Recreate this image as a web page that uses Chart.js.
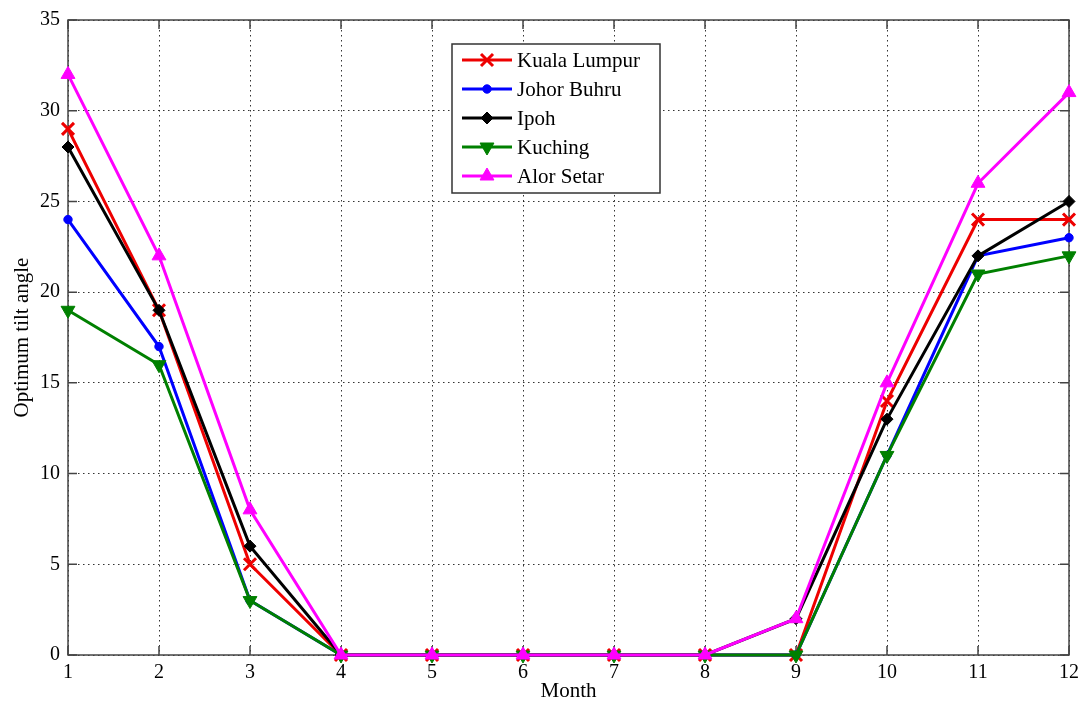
<!DOCTYPE html>
<html>
<head>
<meta charset="utf-8">
<script src="https://cdn.jsdelivr.net/npm/chart.js@4/dist/chart.umd.min.js"></script>
<style>
  html, body { margin: 0; padding: 0; background: #fff; }
  #wrap { width: 1085px; height: 704px; }
</style>
</head>
<body>
<div id="wrap"><canvas id="c" width="1085" height="704"></canvas></div>
<script>
// ---- data ----
const months = ['1','2','3','4','5','6','7','8','9','10','11','12'];
const kualaLumpur = [29, 19, 5, 0, 0, 0, 0, 0, 0, 14, 24, 24];
const johorBuhru  = [24, 17, 3, 0, 0, 0, 0, 0, 0, 11, 22, 23];
const ipoh        = [28, 19, 6, 0, 0, 0, 0, 0, 2, 13, 22, 25];
const kuching     = [19, 16, 3, 0, 0, 0, 0, 0, 0, 11, 21, 22];
const alorSetar   = [32, 22, 8, 0, 0, 0, 0, 0, 2, 15, 26, 31];
const seriesNames = ['Kuala Lumpur', 'Johor Buhru', 'Ipoh', 'Kuching', 'Alor Setar'];
const yTicks = [0, 5, 10, 15, 20, 25, 30, 35];

const FONT = '"Liberation Serif", "DejaVu Serif", serif';

function ds(label, data, color, style, radius, rotation, order) {
  return {
    label, data,
    borderColor: color, backgroundColor: color,
    pointBackgroundColor: color, pointBorderColor: color,
    borderWidth: 3, pointStyle: style, pointRadius: radius,
    pointRotation: rotation, pointBorderWidth: style === 'crossRot' ? 3 : 1,
    tension: 0, clip: false, order
  };
}

const datasets = [
  ds(seriesNames[0], kualaLumpur, '#ee0000', 'crossRot', 8.5, 0, 4),
  ds(seriesNames[1], johorBuhru, '#0000ff', 'circle', 4.2, 0, 3),
  ds(seriesNames[2], ipoh, '#000000', 'rectRot', 6, 0, 2),
  ds(seriesNames[3], kuching, '#008000', 'triangle', 8, 180, 1),
  ds(seriesNames[4], alorSetar, '#ff00ff', 'triangle', 8, 0, 0)
];

// frame + inner tick marks
const framePlugin = {
  id: 'frame',
  beforeDatasetsDraw(chart) {
    const {ctx, chartArea: a, scales} = chart;
    ctx.save();
    ctx.strokeStyle = '#444';
    ctx.lineWidth = 1.5;
    ctx.setLineDash([]);
    const tl = 9;
    ctx.beginPath();
    yTicks.forEach(v => {
      const y = scales.y.getPixelForValue(v);
      ctx.moveTo(a.left, y); ctx.lineTo(a.left + tl, y);
      ctx.moveTo(a.right, y); ctx.lineTo(a.right - tl, y);
    });
    months.forEach((m, i) => {
      const x = scales.x.getPixelForValue(i);
      ctx.moveTo(x, a.bottom); ctx.lineTo(x, a.bottom - tl);
      ctx.moveTo(x, a.top); ctx.lineTo(x, a.top + tl);
    });
    ctx.stroke();
    ctx.strokeRect(a.left, a.top, a.right - a.left, a.bottom - a.top);
    ctx.restore();
  }
};

// legend box inside plot (line + marker samples)
const legendPlugin = {
  id: 'boxLegend',
  afterDraw(chart) {
    const {ctx} = chart;
    const bx = 452, by = 44, bw = 208, bh = 149;
    ctx.save();
    ctx.fillStyle = '#fff';
    ctx.fillRect(bx, by, bw, bh);
    ctx.strokeStyle = '#333';
    ctx.lineWidth = 1.5;
    ctx.strokeRect(bx, by, bw, bh);
    chart.data.datasets.forEach((d, i) => {
      const y = by + 16 + i * 29;
      ctx.strokeStyle = d.borderColor;
      ctx.fillStyle = d.backgroundColor;
      ctx.lineWidth = d.borderWidth;
      ctx.beginPath();
      ctx.moveTo(bx + 10, y); ctx.lineTo(bx + 60, y);
      ctx.stroke();
      ctx.lineWidth = d.pointBorderWidth;
      if (Chart.helpers && Chart.helpers.drawPoint) {
        Chart.helpers.drawPoint(ctx, {
          pointStyle: d.pointStyle, rotation: d.pointRotation,
          radius: d.pointRadius, borderWidth: d.pointBorderWidth
        }, bx + 35, y);
      }
      ctx.fillStyle = '#000';
      ctx.font = '21px ' + FONT;
      ctx.textBaseline = 'middle';
      ctx.textAlign = 'left';
      ctx.fillText(d.label, bx + 65, y + 1);
    });
    ctx.restore();
  }
};

new Chart(document.getElementById('c'), {
  type: 'line',
  data: { labels: months, datasets },
  options: {
    responsive: false,
    animation: false,
    layout: { padding: { top: 17, right: 13, left: 0, bottom: 0 } },
    plugins: { legend: { display: false }, tooltip: { enabled: false } },
    scales: {
      x: {
        type: 'category',
        offset: false,
        grid: { color: 'rgba(0,0,0,0.8)', lineWidth: 1, drawTicks: false },
        border: { display: false, dash: [1.5, 3.5] },
        ticks: { color: '#000', font: { family: FONT, size: 20 }, padding: 6, maxRotation: 0, autoSkip: false },
        title: { display: true, text: 'Month', color: '#000', font: { family: FONT, size: 21 }, padding: { top: 0, bottom: 0 } },
        afterFit(s) { s.height = 49; }
      },
      y: {
        min: 0, max: 35,
        afterBuildTicks(s) { s.ticks = yTicks.map(v => ({ value: v })); },
        grid: { color: 'rgba(0,0,0,0.8)', lineWidth: 1, drawTicks: false },
        border: { display: false, dash: [1.5, 3.5] },
        ticks: { color: '#000', font: { family: FONT, size: 20 }, padding: 8 },
        title: { display: true, text: 'Optimum tilt angle', color: '#000', font: { family: FONT, size: 21 }, padding: { top: 10, bottom: 0 } },
        afterFit(s) { s.width = 68; }
      }
    }
  },
  plugins: [framePlugin, legendPlugin]
});
</script>
</body>
</html>
